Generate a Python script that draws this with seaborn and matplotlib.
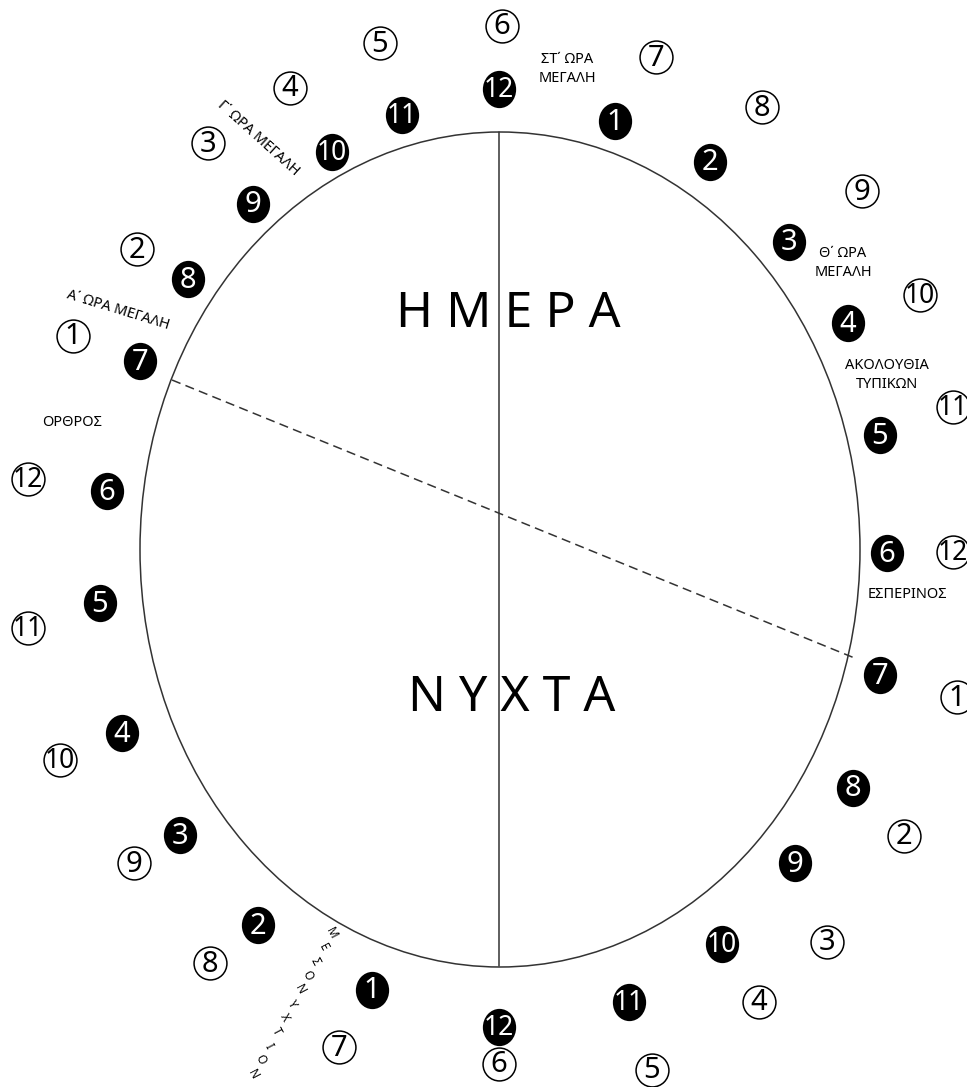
import numpy as np
import matplotlib.pyplot as plt
import seaborn as sns
from matplotlib.patches import Ellipse
from matplotlib.path import Path

sns.set_style("white")
plt.rcParams['font.family'] = ['Noto Sans', 'DejaVu Sans']
plt.rcParams['text.color'] = 'black'

# byzantine hours (black discs) - positions, pixel units
black_labels = ["12", "1", "2", "3", "4", "5", "6", "7", "8", "9", "10", "11",
                "12", "1", "2", "3", "4", "5", "6", "7", "8", "9", "10", "11"]
black_x = [499, 615, 710, 789, 848, 880, 887, 880, 853, 795, 722, 629,
           499, 372, 258, 180, 122, 100, 107, 140, 188, 253, 332, 402]
black_y = [89, 121, 162, 242, 323, 435, 553, 675, 788, 863, 944, 1002,
           1027, 990, 925, 835, 733, 603, 491, 361, 279, 204, 152, 115]

# modern hours (outlined circles)
ring_labels = ["6", "7", "8", "9", "10", "11", "12", "1", "2", "3", "4", "5",
               "6", "7", "8", "9", "10", "11", "12", "1", "2", "3", "4", "5"]
ring_x = [502, 656, 762, 862, 920, 953, 953, 957, 904, 827, 759, 652,
          499, 339, 210, 134, 60, 28, 28, 73, 137, 208, 290, 380]
ring_y = [26, 57, 107, 191, 295, 407, 552, 697, 836, 942, 1002, 1070,
          1064, 1047, 963, 863, 760, 628, 479, 336, 249, 143, 88, 43]

df_black = dict(x=black_x, y=black_y)
df_ring = dict(x=ring_x, y=ring_y)

fig = plt.figure(figsize=(9.67, 10.87), dpi=100)
ax = fig.add_axes([0, 0, 1, 1])
ax.set_xlim(0, 967)
ax.set_ylim(1087, 0)
ax.axis("off")

# the ellipse and the dividing lines
ax.add_patch(Ellipse((500, 549.5), 720, 835, fill=False, lw=1.1, color="#333333"))
ax.plot([499, 499], [132, 966], color="#333333", lw=1.1)
ax.plot([172, 857], [380, 659], color="#333333", lw=1.1, ls=(0, (6, 3.5)))

# slightly tall disc marker
circ = Path.unit_circle()
oval = Path(circ.vertices * np.array([1.0, 1.12]), circ.codes)

sns.scatterplot(data=df_black, x="x", y="y", marker=oval, s=720,
                color="black", edgecolor="black", linewidth=0, ax=ax, zorder=3)
sns.scatterplot(data=df_ring, x="x", y="y", marker="o", s=560,
                facecolor="white", edgecolor="black", linewidth=1.1, ax=ax, zorder=3)

narrow = ['Liberation Sans Narrow', 'Noto Sans', 'DejaVu Sans']


def num_text(x, y, lab, col):
    if len(lab) == 1:
        ax.text(x, y + 1, lab, color=col, ha="center", va="center",
                fontsize=21, zorder=4)
    else:
        ax.text(x, y + 1, lab, color=col, ha="center", va="center",
                fontsize=19, family=narrow, zorder=4)


for lab, x, y in zip(black_labels, black_x, black_y):
    num_text(x, y, lab, "white")
for lab, x, y in zip(ring_labels, ring_x, ring_y):
    num_text(x, y, lab, "black")

# big titles
ax.text(508, 314, "Η Μ Ε Ρ Α", fontsize=36, ha="center", va="center")
ax.text(512, 698, "Ν Υ Χ Τ Α", fontsize=36, ha="center", va="center")

# service labels
lab_kw = dict(fontsize=10.5, ha="center", va="center", linespacing=1.45)
ax.text(567, 69, "ΣΤ΄ ΩΡΑ\nΜΕΓΑΛΗ", **lab_kw)
ax.text(843, 263, "Θ΄ ΩΡΑ\nΜΕΓΑΛΗ", **lab_kw)
ax.text(887, 375, "ΑΚΟΛΟΥΘΙΑ\nΤΥΠΙΚΩΝ", **lab_kw)
ax.text(907, 595, "ΕΣΠΕΡΙΝΟΣ", **lab_kw)
ax.text(72, 422, "ΟΡΘΡΟΣ", **lab_kw)
ax.text(258, 138, "Γ΄ ΩΡΑ ΜΕΓΑΛΗ", rotation=-42, rotation_mode="anchor", **lab_kw)
ax.text(118, 310, "Α΄ ΩΡΑ ΜΕΓΑΛΗ", rotation=-17, rotation_mode="anchor", **lab_kw)

# midnight, letters stacked along a slanted line
word = "ΜΕΣΟΝΥΧΤΙΟΝ"
for ch, x, y in zip(word, np.linspace(331, 253, len(word)), np.linspace(933, 1074, len(word))):
    ax.text(x, y, ch, fontsize=8.5, ha="center", va="center", rotation=-62)

fig.savefig("out.png", dpi=100)
